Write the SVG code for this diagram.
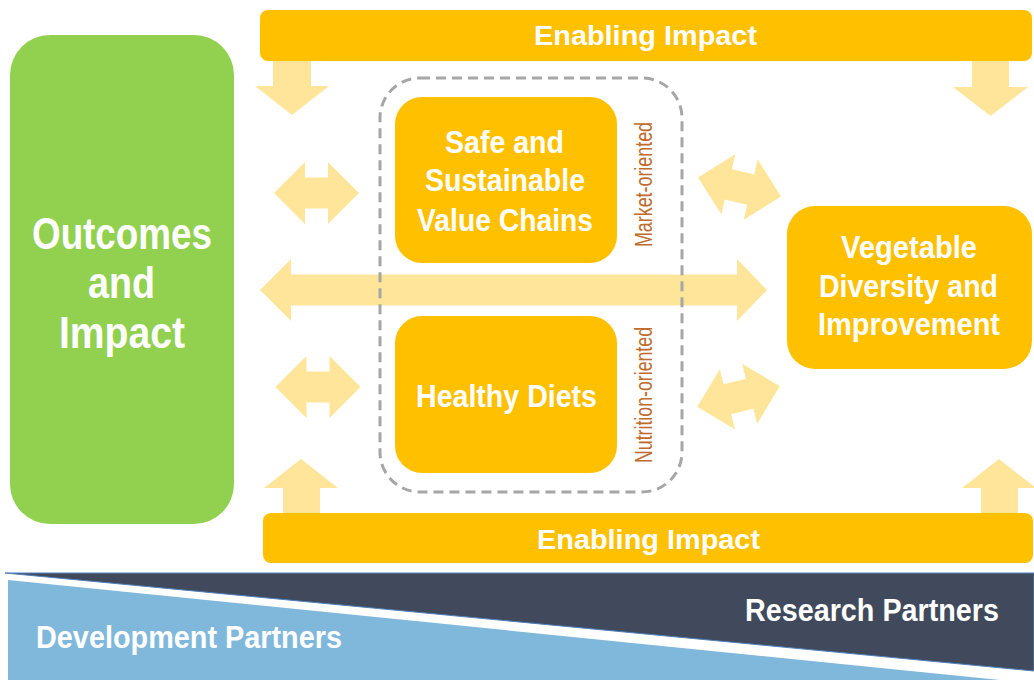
<svg xmlns="http://www.w3.org/2000/svg" width="1034" height="680" viewBox="0 0 1034 680">
  <style>
    .gold { fill: #FFC000; }
    .pale { fill: #FFE599; }
    .lbl { font-family: "Liberation Sans", Arial, sans-serif; font-weight: bold; fill: #FFFFFF; }
    .side { font-family: "Liberation Sans", Arial, sans-serif; font-size: 23px; fill: #BF6B2C; }
  </style>
  <defs>
    <!-- double-headed arrow centred on the origin -->
    <polygon id="dbl" points="-42.5,0 -11.5,-31 -11.5,-15.5 11.5,-15.5 11.5,-31 42.5,0 11.5,31 11.5,15.5 -11.5,15.5 -11.5,31"/>
  </defs>

  <rect width="1034" height="680" fill="#FFFFFF"/>

  <!-- partner banner -->
  <g id="partners">
    <polygon points="8,580 1000,680 8,680" fill="#80B8DC"/>
    <polygon points="5,573 1034,573 1034,671" fill="#404A5C" stroke="#4F81BD" stroke-width="1"/>
    <text class="lbl" x="745" y="621" font-size="31" textLength="254" lengthAdjust="spacingAndGlyphs">Research Partners</text>
    <text class="lbl" x="36" y="648" font-size="31" textLength="306" lengthAdjust="spacingAndGlyphs">Development Partners</text>
  </g>

  <!-- connectors -->
  <g id="connectors" class="pale">
    <polygon points="273,58 311,58 311,86 329,86 292,115 255,86 273,86"/>
    <polygon points="972,58 1009,58 1009,87 1028,87 990.5,116 953,87 972,87"/>
    <polygon points="283,515 320,515 320,488 338,488 301,459 264,488 283,488"/>
    <polygon points="981,515 1018,515 1018,488 1036,488 999,459 962,488 981,488"/>
    <use href="#dbl" transform="translate(316.5,193)"/>
    <use href="#dbl" transform="translate(318,387)"/>
    <use href="#dbl" transform="translate(739.5,187) rotate(13)"/>
    <use href="#dbl" transform="translate(738.5,396.5) rotate(-14)"/>
    <polygon points="260,290 291,259 291,274.5 737,274.5 737,259 767,290 737,321 737,305.5 291,305.5 291,321"/>
  </g>

  <g id="enabling-top">
    <rect class="gold" x="260" y="10" width="772" height="51" rx="8"/>
    <text class="lbl" x="534" y="45" font-size="28" textLength="223" lengthAdjust="spacingAndGlyphs">Enabling Impact</text>
  </g>

  <g id="enabling-bottom">
    <rect class="gold" x="263" y="513" width="770" height="50" rx="8"/>
    <text class="lbl" x="537" y="549" font-size="28" textLength="223" lengthAdjust="spacingAndGlyphs">Enabling Impact</text>
  </g>

  <g id="outcomes">
    <rect x="10" y="35" width="224" height="489" rx="40" fill="#92D050"/>
    <text class="lbl" x="32" y="249" font-size="45" textLength="180" lengthAdjust="spacingAndGlyphs">Outcomes</text>
    <text class="lbl" x="88" y="298" font-size="45" textLength="67" lengthAdjust="spacingAndGlyphs">and</text>
    <text class="lbl" x="59" y="348" font-size="45" textLength="126" lengthAdjust="spacingAndGlyphs">Impact</text>
  </g>

  <g id="orientation-frame">
    <rect x="380" y="78" width="302" height="414" rx="40" fill="none" stroke="#A6A6A6" stroke-width="3" stroke-dasharray="10 6"/>
    <text class="side" transform="translate(652,247) rotate(-90)" textLength="125" lengthAdjust="spacingAndGlyphs">Market-oriented</text>
    <text class="side" transform="translate(652,463) rotate(-90)" textLength="136" lengthAdjust="spacingAndGlyphs">Nutrition-oriented</text>
  </g>

  <g id="value-chains">
    <rect class="gold" x="395" y="97" width="222" height="166" rx="27"/>
    <text class="lbl" x="445" y="153" font-size="31" textLength="119" lengthAdjust="spacingAndGlyphs">Safe and</text>
    <text class="lbl" x="425" y="191" font-size="31" textLength="160" lengthAdjust="spacingAndGlyphs">Sustainable</text>
    <text class="lbl" x="417" y="231" font-size="31" textLength="176" lengthAdjust="spacingAndGlyphs">Value Chains</text>
  </g>

  <g id="healthy-diets">
    <rect class="gold" x="395" y="316" width="222" height="157" rx="27"/>
    <text class="lbl" x="416" y="407" font-size="32" textLength="181" lengthAdjust="spacingAndGlyphs">Healthy Diets</text>
  </g>

  <g id="vegetable-diversity">
    <rect class="gold" x="787" y="206" width="245" height="163" rx="28"/>
    <text class="lbl" x="841" y="258" font-size="31" textLength="136" lengthAdjust="spacingAndGlyphs">Vegetable</text>
    <text class="lbl" x="819" y="297" font-size="31" textLength="179" lengthAdjust="spacingAndGlyphs">Diversity and</text>
    <text class="lbl" x="818" y="335" font-size="31" textLength="182" lengthAdjust="spacingAndGlyphs">Improvement</text>
  </g>
</svg>
